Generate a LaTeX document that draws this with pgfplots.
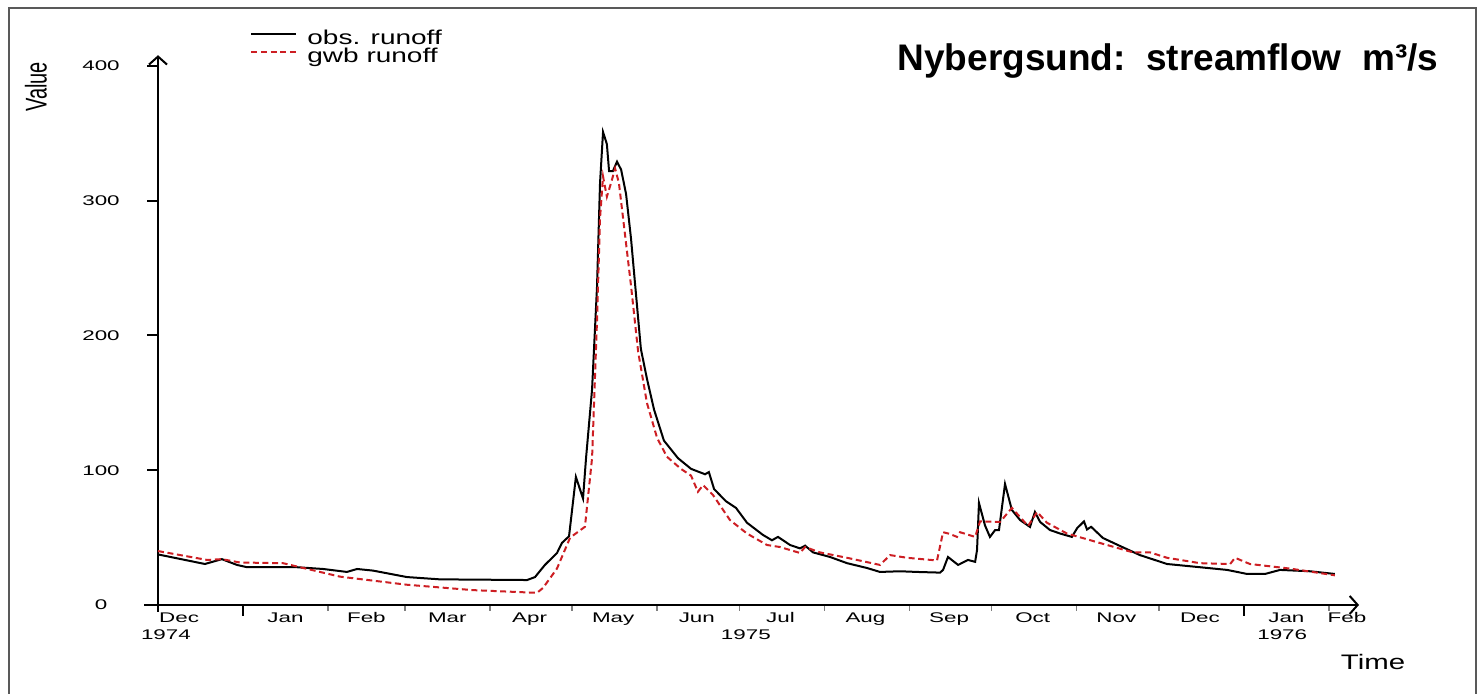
\documentclass[border=0pt]{standalone}
\usepackage{graphicx}
\usepackage{pgfplots}
\pgfplotsset{compat=1.18}
\usepackage{pgfplotstable}
\usetikzlibrary{arrows.meta}
\usepackage{fontspec}
\setmainfont{Liberation Sans}
\newfontfamily\tickfont{Liberation Sans}[FakeStretch=1.6]
\newfontfamily\labfont{Liberation Sans}[FakeStretch=1.4]
\definecolor{gwbred}{RGB}{205,30,35}

% days since 1 Dec 1974, streamflow m3/s
\pgfplotstableread{
day q
0 37.5
17.1 30.4
23.3 34
28.8 29.7
32.5 28
50.7 28
60.2 26.7
68.9 24.5
72.6 26.7
78.4 25.5
90.8 20.7
102.8 19
134.6 18.5
137.5 20.7
141.1 29.7
145.5 38.5
147.3 46
149.9 51
152.4 95
155.0 79
156.1 109
158.3 160
160.1 236
161.2 313
162.3 351
163.7 342
164.5 322
165.9 322
167.4 329
168.9 323
170.7 305
172.5 272
174.3 231
176.1 190
178.3 168
180.9 145
184.5 122
189.6 109
194.4 101
199.5 97
200.9 98.6
202.8 86
207.1 77
210.8 72
214.8 61
220.6 52
223.9 48
226.1 50.5
230.5 44.5
234.1 42
236.0 44
238.9 39
245.1 35.6
251.3 31
258.6 27.4
263.3 24.5
270.6 25
276.8 24.5
285.2 24
286.3 26
288.1 35.6
291.8 29.7
295.4 33.4
298.0 32
298.7 40.8
299.4 75.7
301.6 59
303.4 50.5
305.3 55.6
306.7 55.6
308.9 89.8
311.4 70.5
314.4 63
318.0 57.9
319.8 69
321.7 61.6
325.3 55.6
329.0 53
333.3 50.5
335.2 57
337.7 62
338.8 56
340.3 58
344.6 49.7
350.8 43.8
358.1 37
368.0 30.4
380.0 28
389.9 26
397.2 23
403.7 23
409.2 26
420.1 25
429.2 23
}\obs

\pgfplotstableread{
day q
0 40
17.9 33.4
23.3 34
29.9 31.5
45.6 31
51.8 28
66.4 21
90.8 15
114.9 11
138.2 9
140.4 12.6
145.5 27
150.3 50
155.7 58
158.3 109
160.1 211
161.2 287
162.3 318
163.7 303
165.2 313
166.7 324
168.1 313
169.9 282
172.5 237
175.1 188
178.3 150
182.0 124
185.6 110
190.7 101
194.4 96
196.9 84
198.8 89
202.4 81.6
208.6 63
214.8 53
222.1 44.5
226.8 43
234.1 38.6
236.0 43
241.4 39
251.3 35
263.3 29.7
267.0 37
273.2 35
284.1 33
286.3 54
288.8 52.7
291.4 50.5
292.5 54
298.0 50.5
299.8 62
307.1 61.6
311.4 72
317.3 58.6
320.6 69
324.2 61
331.5 53
343.5 46
355.6 39
361.8 39
368.0 35
380.0 31
391.0 30.4
392.8 35
398.2 30.4
412.8 27
429.2 22
}\gwb

\begin{document}
\begin{tikzpicture}
\useasboundingbox (-72.15pt,-41.15pt) rectangle (666.35pt,305.85pt);
\draw[gray!70!black, line width=1pt] (-67.65pt,-41.15pt) -- (-67.65pt,301.85pt) -- (665.85pt,301.85pt) -- (665.85pt,-41.15pt);
\begin{axis}[
  scale only axis, width=607.35pt, height=278.25pt,
  xmin=-5, xmax=438, ymin=-5, ymax=408,
  axis x line=middle, axis y line=middle,
  axis line style={line width=1pt, -{Straight Barb[length=4pt,width=9pt]}},
  hide obscured y ticks=false,
  clip=false,
  tick align=outside,
  major tick length=5.5pt, minor tick length=3pt,
  ytick={0,100,200,300,400},
  xtick={31,396}, xticklabels={,},
  minor xtick={0,62,90,121,151,182,212,243,274,304,335,365,427},
  every tick/.style={black, line width=1pt},
  every minor tick/.style={gray, line width=0.8pt},
  extra x ticks={7.7,46.5,76,105.5,135.5,166,196.5,227,258,288.5,319,349.5,380,411.5,433.6},
  extra x tick labels={Dec,Jan,Feb,Mar,Apr,May,Jun,Jul,Aug,Sep,Oct,Nov,Dec,Jan,Feb},
  extra x tick style={major tick length=0pt},
  /pgf/number format/assume math mode=true,
  xticklabel style={anchor=base, yshift=-9pt, inner sep=0pt, font=\tickfont\fontsize{7}{8}\selectfont},
  yticklabel style={anchor=center, xshift=-23pt, inner sep=0pt, font=\tickfont\fontsize{7}{8}\selectfont},
  legend style={draw=none, fill=none, at={(axis cs:33.55,426.7)}, anchor=north west, inner sep=0pt,
    font=\labfont\fontsize{10}{10}\selectfont, column sep=5pt, row sep=0pt,
    nodes={inner sep=0pt, text height=7.2pt, text depth=1.8pt}},
  legend cell align=left,
  legend image code/.code={\draw[#1] (0pt,2.6pt) -- (22.5pt,2.6pt);},
]
\addplot[black, line width=1pt] table {\obs};
\addlegendentry{obs. runoff}
\addplot[gwbred, line width=1pt, dash pattern=on 3pt off 1.8pt] table {\gwb};
\addlegendentry{gwb runoff}

\node[anchor=base east, font=\fontsize{18.5}{20}\selectfont\bfseries] at (axis cs:469.5,397) {Nybergsund:\ \ streamflow\ \ m³/s};
\node[rotate=90, anchor=center] at (axis cs:-44.5,384.4) {\scalebox{1}[1.5]{\fontsize{10}{10}\selectfont Value}};
\node[anchor=base, font=\labfont\fontsize{10.5}{11}\selectfont] at (axis cs:443.1,-48.2) {Time};
\node[anchor=base, yshift=-17.5pt, font=\tickfont\fontsize{7}{8}\selectfont] at (axis cs:2.9,0) {1974};
\node[anchor=base, yshift=-17.5pt, font=\tickfont\fontsize{7}{8}\selectfont] at (axis cs:214.4,0) {1975};
\node[anchor=base, yshift=-17.5pt, font=\tickfont\fontsize{7}{8}\selectfont] at (axis cs:410,0) {1976};
\end{axis}
\end{tikzpicture}
\end{document}
